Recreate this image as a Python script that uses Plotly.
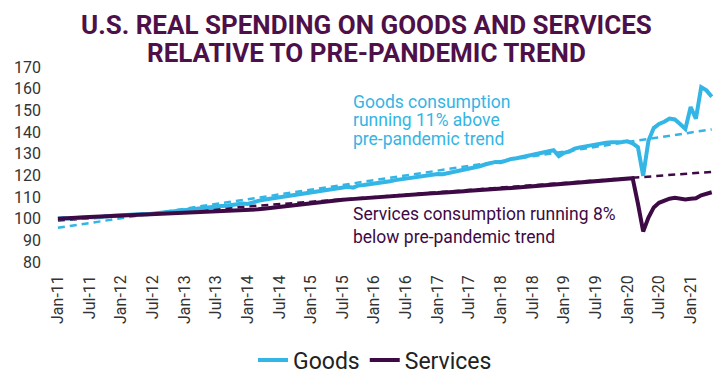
import plotly.graph_objects as go

# Monthly index values, Jan-2011 .. May-2021
goods = [
    100.0, 100.3, 100.1, 100.2, 100.0, 100.4, 100.6, 100.8, 100.7, 101.1, 101.3, 101.2,
    101.7, 101.9, 101.8, 102.0, 102.2, 102.0, 102.3, 102.6, 102.9, 103.0, 103.2, 103.8,
    104.0, 104.3, 104.5, 104.6, 105.0, 105.3, 105.5, 105.8, 106.0, 106.3, 106.7, 107.0,
    106.8, 107.6, 108.2, 108.7, 109.1, 109.4, 109.8, 110.2, 110.5, 110.9, 111.3, 111.8,
    112.0, 112.4, 112.9, 113.1, 113.6, 113.9, 114.4, 114.7, 114.3, 115.3, 115.5, 115.8,
    116.0, 116.6, 116.9, 117.3, 117.8, 118.2, 118.6, 118.8, 119.2, 119.6, 119.9, 120.4,
    120.6, 120.5, 121.0, 121.7, 122.2, 122.6, 123.0, 123.4, 124.2, 125.0, 125.6, 126.2,
    126.0, 126.8, 127.6, 127.9, 128.4, 128.9, 129.3, 129.9, 130.6, 131.2, 131.6, 128.9,
    130.4, 131.0, 132.3, 132.9, 133.4, 133.9, 134.5, 134.8, 135.1, 135.3, 135.2, 135.4,
    135.7, 134.8, 133.0, 119.8, 136.0, 141.8, 143.7, 144.7, 146.2, 145.8, 143.7, 141.4,
    151.5, 146.2, 160.7, 159.2, 156.3,
]
services = [
    100.0, 100.2, 100.3, 100.4, 100.6, 100.7, 100.8, 100.9, 101.0, 101.0, 101.1, 101.2,
    101.3, 101.5, 101.7, 101.9, 102.0, 102.1, 102.2, 102.3, 102.4, 102.5, 102.6, 102.7,
    102.8, 102.8, 102.9, 102.9, 103.0, 103.0, 103.1, 103.2, 103.3, 103.4, 103.5, 103.6,
    103.8, 104.0, 104.3, 104.6, 104.9, 105.2, 105.5, 105.8, 106.1, 106.4, 106.7, 107.0,
    107.3, 107.5, 107.8, 108.0, 108.3, 108.5, 108.7, 108.9, 109.1, 109.2, 109.4, 109.5,
    109.6, 109.8, 110.0, 110.2, 110.4, 110.6, 110.8, 111.0, 111.1, 111.3, 111.5, 111.7,
    111.8, 111.9, 112.1, 112.3, 112.5, 112.7, 112.9, 113.0, 113.1, 113.3, 113.5, 113.7,
    113.9, 114.0, 114.2, 114.4, 114.6, 114.8, 115.0, 115.2, 115.3, 115.5, 115.7, 115.8,
    116.0, 116.2, 116.4, 116.6, 116.8, 117.0, 117.2, 117.4, 117.6, 117.8, 118.0, 118.2,
    118.4, 118.7, 107.0, 94.1, 100.5, 105.2, 107.3, 108.3, 109.2, 109.6, 109.1, 108.9,
    109.2, 109.4, 110.8, 111.6, 112.2,
]
# Pre-pandemic trend lines: values at first and last month
trend_months = [0, 124]
goods_trend = [95.8, 141.2]
services_trend = [99.1, 121.6]

tick_labels = ["Jan-11", "Jul-11", "Jan-12", "Jul-12", "Jan-13", "Jul-13", "Jan-14",
               "Jul-14", "Jan-15", "Jul-15", "Jan-16", "Jul-16", "Jan-17", "Jul-17",
               "Jan-18", "Jul-18", "Jan-19", "Jul-19", "Jan-20", "Jul-20", "Jan-21"]
tick_pos = [6 * i for i in range(len(tick_labels))]
months = list(range(len(goods)))

title_lines = ["U.S. REAL SPENDING ON GOODS AND SERVICES", "RELATIVE TO PRE-PANDEMIC TREND"]
goods_note = ["Goods consumption", "running 11% above", "pre-pandemic trend"]
services_note = ["Services consumption running 8%", "below pre-pandemic trend"]

BLUE = "#33B5E5"
PURPLE = "#3E0A45"
TITLE = "#4E1049"
FONT = "Roboto"

fig = go.Figure()
fig.add_trace(go.Scatter(x=trend_months, y=goods_trend, mode="lines",
                         line=dict(color=BLUE, width=2.5, dash="7px,5px"),
                         showlegend=False, hoverinfo="skip"))
fig.add_trace(go.Scatter(x=trend_months, y=services_trend, mode="lines",
                         line=dict(color=PURPLE, width=2.5, dash="7px,5px"),
                         showlegend=False, hoverinfo="skip"))
fig.add_trace(go.Scatter(x=months, y=goods, mode="lines", name="Goods",
                         line=dict(color=BLUE, width=4)))
fig.add_trace(go.Scatter(x=months, y=services, mode="lines", name="Services",
                         line=dict(color=PURPLE, width=4)))

# Title lines (centre y in pixels: 22, 52) -> paper coords
for line, py in zip(title_lines, [22, 52]):
    fig.add_annotation(x=(366 - 50) / 667, xref="paper", y=(274 - py) / 207, yref="paper",
                       xanchor="center", yanchor="middle", text=f"<b>{line}</b>",
                       showarrow=False,
                       font=dict(family=FONT, size=26, color=TITLE))

for line, yv in zip(goods_note, [154.0, 145.7, 137.0]):
    fig.add_annotation(x=55.6, y=yv, xref="x", yref="y", xanchor="left", yanchor="middle",
                       text=line, showarrow=False,
                       font=dict(family=FONT, size=17.5, color=BLUE))
fig.add_annotation(x=55.6, y=96.7, xref="x", yref="y", xanchor="left", yanchor="middle",
                   text="<br>".join(services_note), showarrow=False, align="left",
                   font=dict(family=FONT, size=17.5, color=PURPLE))

fig.update_layout(
    width=725, height=390,
    margin=dict(l=50, r=8, t=67, b=116),
    paper_bgcolor="white", plot_bgcolor="white",
    font=dict(family=FONT, color="#333333"),
    xaxis=dict(range=[-1.5, 125], tickmode="array", tickvals=tick_pos, ticktext=tick_labels,
               tickangle=-90, showgrid=False, zeroline=False, showline=False,
               ticks="", ticklabelstandoff=9,
               tickfont=dict(family=FONT, size=16, color="#333333")),
    yaxis=dict(range=[80, 170], dtick=10, showgrid=False, zeroline=False, showline=False,
               ticks="", ticklabelstandoff=8,
               tickfont=dict(family=FONT, size=16, color="#333333")),
    legend=dict(orientation="h", x=(375 - 50) / 667, xanchor="center",
                y=(274 - 378) / 207, yanchor="middle",
                font=dict(family=FONT, size=23, color="#222222"),
                itemwidth=30, tracegroupgap=0),
    showlegend=True,
)

fig.write_html("out.html")
